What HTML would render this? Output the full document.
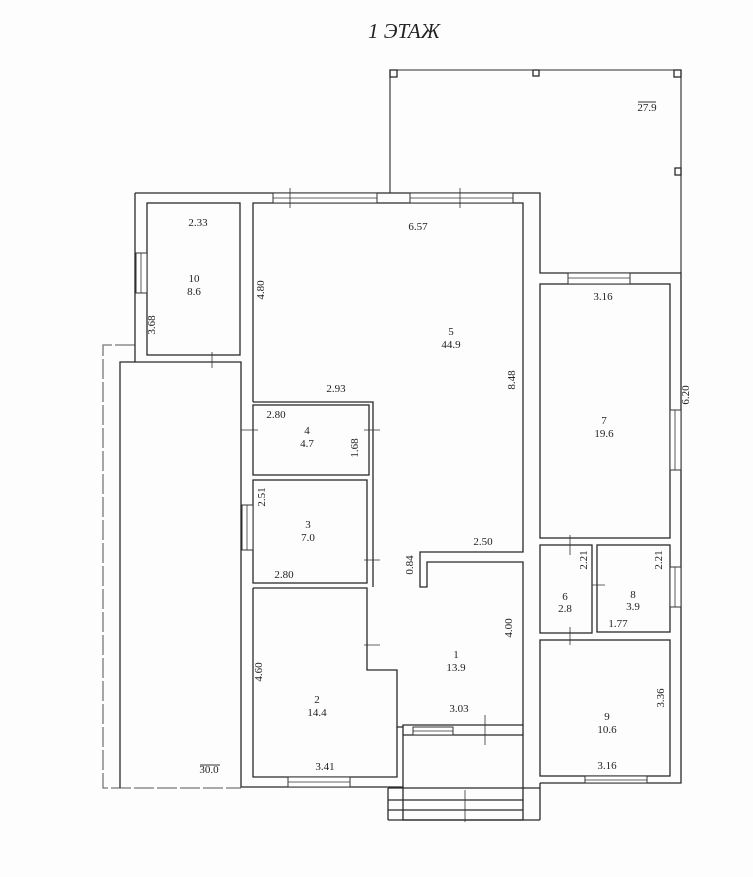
<!DOCTYPE html>
<html><head><meta charset="utf-8"><style>
html,body{margin:0;padding:0;background:#fff;}
svg{display:block}
text{font-family:"Liberation Serif",serif;font-size:11px;fill:#222;}
</style></head><body>
<svg width="753" height="877" viewBox="0 0 753 877" xmlns="http://www.w3.org/2000/svg">
<rect width="753" height="877" fill="#fdfdfd"/>
<text x="404" y="38" text-anchor="middle" style="font-size:21px;font-style:italic">1 ЭТАЖ</text>
<g fill="none" stroke="#2a2a2a" stroke-width="1.3">
<!-- terrace 27.9 -->
<path d="M390,193 V70 H681 V273" stroke-width="1.1"/>
<rect x="390" y="70" width="7" height="7"/><rect x="674" y="70" width="7" height="7"/><rect x="533" y="70" width="6" height="6"/><rect x="675" y="168" width="6" height="7"/>
<!-- left terrace 30.0 -->
<path d="M135,345 H103 V788 H241" stroke-dasharray="20,3" stroke="#777"/>
<path d="M135,362 H120 V788"/>
<!-- outer walls -->
<path d="M135,193 H540 V273 H681 V783 H540"/>
<path d="M135,193 V362 H241 V787 H403"/>
<!-- room 10 -->
<rect x="147" y="203" width="93" height="152"/>
<path d="M253,402 V203 H523 V552 H420 V587 H427 V562 H523 V725 H403 V727"/>
<path d="M253,402 H373 V587"/>
<rect x="253" y="405" width="116" height="70"/>
<rect x="253" y="480" width="114" height="103"/>
<path d="M253,588 H367 V670 H397 V727 H403 V820 H523 V735 H403"/>
<path d="M253,588 V777 H397 V727"/>
<path d="M523,725 V735"/>
<!-- porch -->
<path d="M388,788 H540 M388,800 H523 M388,810 H523 M388,820 H540 M388,788 V820 M540,783 V820"/>
<!-- right rooms -->
<rect x="540" y="284" width="130" height="254"/>
<rect x="540" y="545" width="52" height="88"/>
<rect x="597" y="545" width="73" height="87"/>
<rect x="540" y="640" width="130" height="136"/>
</g>
<g fill="#fff" stroke="#333" stroke-width="1">
<rect x="273" y="193" width="104" height="10"/><rect x="410" y="193" width="103" height="10"/>
<rect x="568" y="273" width="62" height="11"/>
<rect x="136" y="253" width="11" height="40"/>
<rect x="242" y="505" width="11" height="45"/>
<rect x="670" y="410" width="11" height="60"/>
<rect x="670" y="567" width="11" height="40"/>
<rect x="288" y="777" width="62" height="10"/>
<rect x="585" y="776" width="62" height="7"/>
<rect x="413" y="727" width="40" height="8"/>
</g>
<g stroke="#333" stroke-width="0.8">
<path d="M273,198 H377 M410,198 H513 M568,278 H630 M141,253 V293 M247,505 V550 M675,410 V470 M675,567 V607 M288,782 H350 M585,780 H647 M413,731 H453"/>
<path d="M290,188 V208 M460,188 V208 M212,352 V368 M241,430 H258 M364,430 H380 M364,560 H380 M364,645 H380 M485,715 V745 M570,535 V555 M570,627 V645 M592,585 H605 M465,790 V822"/>
</g>
<g text-anchor="middle">
<text x="198" y="226">2.33</text>
<text x="194" y="282">10</text><text x="194" y="295">8.6</text>
<text x="418" y="230">6.57</text>
<text x="451" y="335">5</text><text x="451" y="348">44.9</text>
<text x="603" y="300">3.16</text>
<text x="604" y="424">7</text><text x="604" y="437">19.6</text>
<text x="336" y="392">2.93</text>
<text x="276" y="418">2.80</text>
<text x="307" y="434">4</text><text x="307" y="447">4.7</text>
<text x="308" y="528">3</text><text x="308" y="541">7.0</text>
<text x="284" y="578">2.80</text>
<text x="483" y="545">2.50</text>
<text x="565" y="600">6</text><text x="565" y="612">2.8</text>
<text x="633" y="598">8</text><text x="633" y="610">3.9</text>
<text x="618" y="627">1.77</text>
<text x="456" y="658">1</text><text x="456" y="671">13.9</text>
<text x="317" y="703">2</text><text x="317" y="716">14.4</text>
<text x="459" y="712">3.03</text>
<text x="607" y="720">9</text><text x="607" y="733">10.6</text>
<text x="325" y="770">3.41</text>
<text x="607" y="769">3.16</text>
<text x="209" y="773">30.0</text>
<text x="647" y="111">27.9</text>
</g>
<g text-anchor="middle">
<text transform="translate(264,290) rotate(-90)">4.80</text>
<text transform="translate(155,325) rotate(-90)">3.68</text>
<text transform="translate(358,448) rotate(-90)">1.68</text>
<text transform="translate(265,497) rotate(-90)">2.51</text>
<text transform="translate(262,672) rotate(-90)">4.60</text>
<text transform="translate(515,380) rotate(-90)">8.48</text>
<text transform="translate(413,565) rotate(-90)">0.84</text>
<text transform="translate(512,628) rotate(-90)">4.00</text>
<text transform="translate(587,560) rotate(-90)">2.21</text>
<text transform="translate(662,560) rotate(-90)">2.21</text>
<text transform="translate(689,395) rotate(-90)">6.20</text>
<text transform="translate(664,698) rotate(-90)">3.36</text>
</g>
<path d="M638,102 H656" stroke="#333"/><path d="M200,765 H220" stroke="#333"/>
</svg>
</body></html>
